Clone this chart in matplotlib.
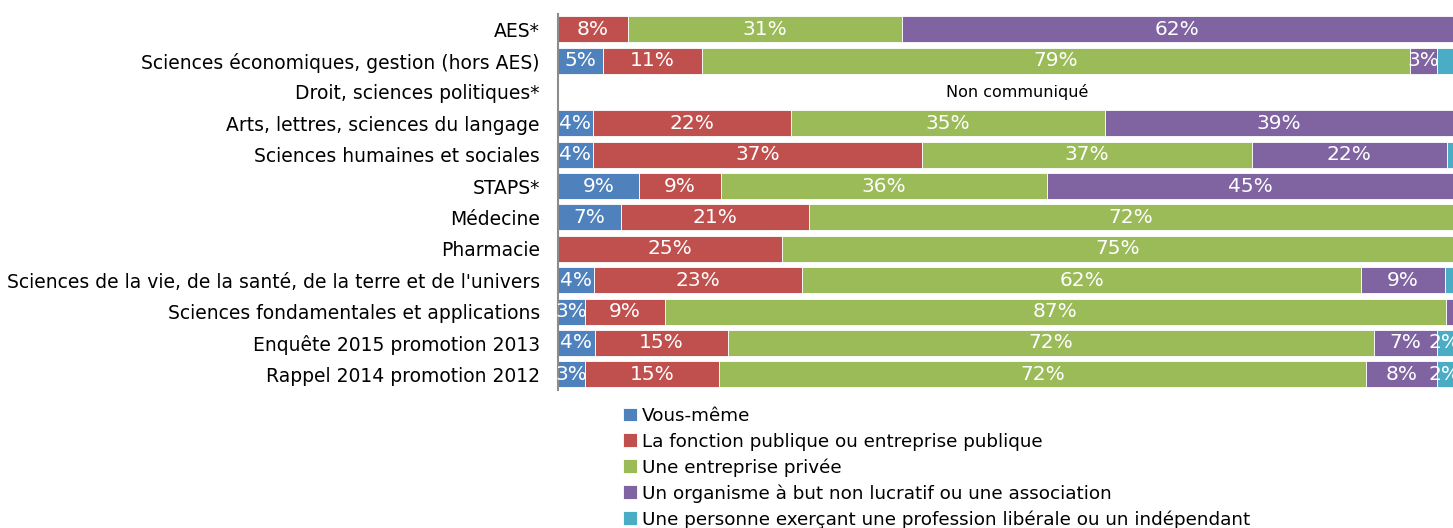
import matplotlib
matplotlib.use("Agg")
import matplotlib.pyplot as plt
import numpy as np

# categories, top to bottom
categories = ["AES*", "Sciences économiques, gestion (hors AES)", "Droit, sciences politiques*",
              "Arts, lettres, sciences du langage", "Sciences humaines et sociales", "STAPS*",
              "Médecine", "Pharmacie", "Sciences de la vie, de la santé, de la terre et de l'univers",
              "Sciences fondamentales et applications", "Enquête 2015 promotion 2013",
              "Rappel 2014 promotion 2012"]

series_names = ["Vous-même", "La fonction publique ou entreprise publique", "Une entreprise privée",
                "Un organisme à but non lucratif ou une association",
                "Une personne exerçant une profession libérale ou un indépendant"]
colors = ["#4F81BD", "#C0504D", "#9BBB59", "#8064A2", "#4BACC6"]

# values in % (estimated)
vous_meme = [0, 5.0, 0, 3.9, 3.9, 9.05, 7.0, 0, 4.0, 3.0, 4.1, 3.0]
fonction_pub = [7.8, 11.1, 0, 22.1, 36.8, 9.2, 21.0, 25.0, 23.3, 8.9, 14.9, 15.0]
entreprise_priv = [30.6, 79.1, 0, 35.1, 36.8, 36.4, 72.0, 75.0, 62.4, 87.3, 72.2, 72.3]
organisme = [61.6, 3.0, 0, 38.9, 21.8, 45.4, 0, 0, 9.4, 0.8, 7.0, 7.9]
independant = [0, 1.8, 0, 0, 0.8, 0, 0, 0, 0.9, 0, 1.8, 1.8]

# data labels shown on the chart
lab_vous = ["", "5%", "", "4%", "4%", "9%", "7%", "", "4%", "3%", "4%", "3%"]
lab_fonc = ["8%", "11%", "", "22%", "37%", "9%", "21%", "25%", "23%", "9%", "15%", "15%"]
lab_priv = ["31%", "79%", "", "35%", "37%", "36%", "72%", "75%", "62%", "87%", "72%", "72%"]
lab_org = ["62%", "3%", "", "39%", "22%", "45%", "", "", "9%", "", "7%", "8%"]
lab_ind = ["", "", "", "", "", "", "", "", "", "", "2%", "2%"]

data = [vous_meme, fonction_pub, entreprise_priv, organisme, independant]
labels = [lab_vous, lab_fonc, lab_priv, lab_org, lab_ind]

fig = plt.figure(figsize=(14.53, 5.28), dpi=100)
ax = fig.add_axes([558 / 1453, 1 - 390 / 528, 1 - 558 / 1453, (390 - 13.5) / 528])

y = np.arange(len(categories))
left = np.zeros(len(categories))
for vals, labs, col, name in zip(data, labels, colors, series_names):
    vals = np.array(vals)
    ax.barh(y, vals, left=left, height=0.83, color=col, edgecolor="white",
            linewidth=0.6, label=name)
    for yi, (v, l, lt) in enumerate(zip(vals, labs, left)):
        if l:
            ax.text(lt + v / 2, yi, l, ha="center", va="center", color="white",
                    fontsize=14.5, clip_on=False)
    left = left + vals

ax.text(51.3, 2, "Non communiqué", ha="center", va="center", color="black", fontsize=11.5)

ax.set_xlim(0, 100)
ax.set_ylim(len(categories) - 0.5, -0.5)
ax.set_yticks(y)
ax.set_yticklabels(categories, fontsize=13.5)
ax.tick_params(axis="y", length=0, pad=13)
ax.set_xticks([])
for s in ["top", "right", "bottom"]:
    ax.spines[s].set_visible(False)
ax.spines["left"].set_color("#8c8c8c")
ax.spines["left"].set_linewidth(1.5)

fig.legend(loc="upper left", bbox_to_anchor=(623 / 1453, 1 - 407 / 528), frameon=False,
           fontsize=13.2, handlelength=0.75, handleheight=0.75, handletextpad=0.3,
           labelspacing=0.41, borderpad=0, borderaxespad=0)

fig.savefig("out.png", dpi=100)
